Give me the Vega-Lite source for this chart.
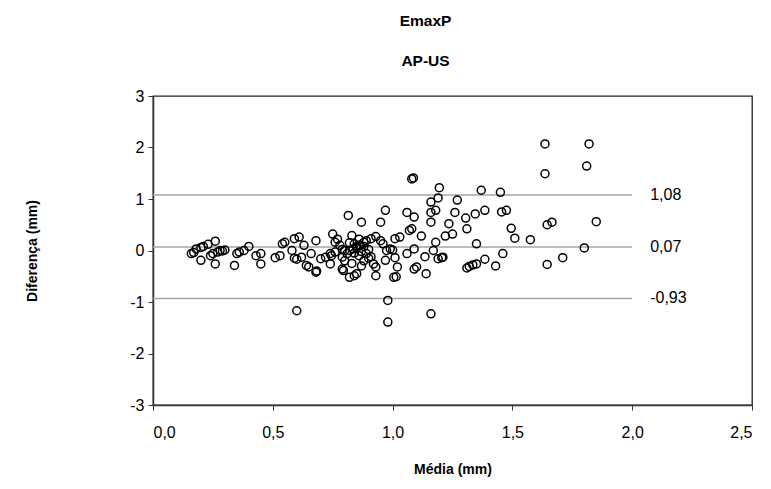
{
  "$schema": "https://vega.github.io/schema/vega-lite/v6.json",
  "width": 599,
  "height": 309,
  "autosize": {"type": "none"},
  "padding": {"left": 153, "top": 96, "right": 19, "bottom": 84},
  "background": "white",
  "config": {
    "font": "Liberation Sans",
    "view": {"stroke": "#222", "strokeWidth": 1.3},
    "axis": {"grid": false, "domainColor": "#333", "domainWidth": 1.5, "tickColor": "#333", "tickSize": 5, "labelFont": "Liberation Sans", "labelFontSize": 16, "labelColor": "#000", "titleFont": "Liberation Sans", "titleFontSize": 14, "titleFontWeight": "bold", "titleColor": "#000"}
  },
  "title": {"text": "EmaxP", "subtitle": "AP-US", "fontSize": 15.5, "fontWeight": "bold", "subtitleFontSize": 15.5, "subtitleFontWeight": "bold", "subtitleColor": "#000", "color": "#000", "subtitlePadding": 24, "offset": 19, "dx": -27, "anchor": "middle", "font": "Liberation Sans", "subtitleFont": "Liberation Sans"},
  "datasets": {
    "pts": [
      {"m":0.16,"d":-0.06},{"m":0.17,"d":-0.04},{"m":0.18,"d":0.03},{"m":0.20,"d":0.06},{"m":0.20,"d":-0.19},{"m":0.21,"d":0.08},{"m":0.23,"d":0.12},{"m":0.24,"d":-0.10},{"m":0.25,"d":-0.06},{"m":0.26,"d":0.18},{"m":0.26,"d":-0.26},{"m":0.27,"d":-0.03},{"m":0.28,"d":0.0},{"m":0.29,"d":-0.01},{"m":0.30,"d":0.01},
      {"m":0.34,"d":-0.29},{"m":0.35,"d":-0.06},{"m":0.36,"d":-0.03},{"m":0.38,"d":0.0},{"m":0.40,"d":0.08},{"m":0.43,"d":-0.10},{"m":0.45,"d":-0.06},{"m":0.45,"d":-0.26},{"m":0.51,"d":-0.14},{"m":0.53,"d":-0.10},{"m":0.54,"d":0.13},{"m":0.55,"d":0.16},
      {"m":0.58,"d":0.0},{"m":0.59,"d":0.23},{"m":0.61,"d":0.26},{"m":0.59,"d":-0.15},{"m":0.60,"d":-0.17},{"m":0.60,"d":-1.17},{"m":0.62,"d":-0.13},{"m":0.63,"d":0.10},{"m":0.64,"d":-0.29},{"m":0.65,"d":-0.32},{"m":0.66,"d":-0.06},{"m":0.68,"d":-0.42},{"m":0.683,"d":-0.40},{"m":0.68,"d":0.19},{"m":0.70,"d":-0.16},{"m":0.72,"d":-0.13},
      {"m":0.74,"d":-0.26},{"m":0.745,"d":-0.10},{"m":0.75,"d":0.32},{"m":0.76,"d":0.16},{"m":0.77,"d":0.22},{"m":0.74,"d":-0.06},{"m":0.76,"d":-0.03},{"m":0.79,"d":0.02},{"m":0.80,"d":0.0},{"m":0.79,"d":-0.36},{"m":0.795,"d":-0.39},{"m":0.815,"d":0.68},{"m":0.82,"d":-0.52},{"m":0.84,"d":-0.49},{"m":0.85,"d":-0.45},{"m":0.83,"d":0.29},{"m":0.84,"d":0.13},{"m":0.84,"d":-0.05},{"m":0.85,"d":0.05},{"m":0.86,"d":-0.1},{"m":0.86,"d":0.1},{"m":0.87,"d":0.55},{"m":0.87,"d":-0.02},{"m":0.88,"d":0.08},{"m":0.88,"d":-0.2},{"m":0.89,"d":0.19},{"m":0.89,"d":-0.06},{"m":0.90,"d":0.02},{"m":0.91,"d":0.23},{"m":0.91,"d":-0.12},{"m":0.92,"d":-0.26},{"m":0.93,"d":0.27},{"m":0.93,"d":-0.49},{"m":0.93,"d":-0.32},
      {"m":0.79,"d":-0.13},{"m":0.81,"d":-0.06},{"m":0.82,"d":0.0},{"m":0.835,"d":0.03},{"m":0.85,"d":0.08},{"m":0.865,"d":0.10},{"m":0.88,"d":0.16},{"m":0.80,"d":-0.2},{"m":0.83,"d":-0.25},{"m":0.87,"d":-0.3},{"m":0.90,"d":-0.15},{"m":0.78,"d":0.1},{"m":0.82,"d":0.15},{"m":0.86,"d":0.22},
      {"m":0.95,"d":0.55},{"m":0.95,"d":0.19},{"m":0.96,"d":0.13},{"m":0.97,"d":0.78},{"m":0.97,"d":-0.19},{"m":0.975,"d":0.0},{"m":0.99,"d":0.03},{"m":0.98,"d":-0.97},{"m":0.98,"d":-1.39},{"m":1.00,"d":0.01},{"m":1.005,"d":-0.52},{"m":1.015,"d":-0.51},{"m":1.01,"d":-0.14},{"m":1.01,"d":0.23},{"m":1.03,"d":0.26},{"m":1.02,"d":-0.32},
      {"m":1.06,"d":0.74},{"m":1.09,"d":0.65},{"m":1.07,"d":0.39},{"m":1.08,"d":0.42},{"m":1.06,"d":-0.06},{"m":1.09,"d":0.03},{"m":1.09,"d":-0.36},{"m":1.10,"d":-0.32},{"m":1.08,"d":1.39},{"m":1.087,"d":1.41},{"m":1.12,"d":0.28},{"m":1.14,"d":-0.45},{"m":1.135,"d":-0.12},{"m":1.16,"d":-1.23},{"m":1.16,"d":0.55},{"m":1.16,"d":0.74},{"m":1.18,"d":0.78},{"m":1.16,"d":0.94},{"m":1.19,"d":1.02},{"m":1.195,"d":1.22},{"m":1.18,"d":0.16},{"m":1.17,"d":0.0},{"m":1.19,"d":-0.16},{"m":1.205,"d":-0.14},{"m":1.21,"d":-0.13},
      {"m":1.22,"d":0.28},{"m":1.235,"d":0.52},{"m":1.25,"d":0.32},{"m":1.26,"d":0.74},{"m":1.27,"d":0.98},{"m":1.305,"d":0.63},{"m":1.31,"d":0.42},{"m":1.31,"d":-0.34},{"m":1.32,"d":-0.31},{"m":1.335,"d":-0.28},{"m":1.35,"d":-0.26},{"m":1.345,"d":0.71},{"m":1.35,"d":0.13},{"m":1.37,"d":1.17},{"m":1.385,"d":0.78},{"m":1.385,"d":-0.17},{"m":1.43,"d":-0.30},{"m":1.45,"d":1.13},{"m":1.455,"d":0.75},{"m":1.475,"d":0.78},{"m":1.46,"d":-0.06},{"m":1.495,"d":0.43},{"m":1.51,"d":0.24},
      {"m":1.575,"d":0.21},{"m":1.636,"d":2.07},{"m":1.636,"d":1.49},{"m":1.645,"d":0.50},{"m":1.665,"d":0.55},{"m":1.645,"d":-0.27},{"m":1.71,"d":-0.14},{"m":1.80,"d":0.05},{"m":1.81,"d":1.64},{"m":1.82,"d":2.07},{"m":1.85,"d":0.56}
    ],
    "lines": [
      {"y":1.08,"x0":0,"x1":2,"label":"1,08"},
      {"y":0.07,"x0":0,"x1":2,"label":"0,07"},
      {"y":-0.93,"x0":0,"x1":2,"label":"-0,93"}
    ]
  },
  "layer": [
    {
      "data": {"name": "lines"},
      "mark": {"type": "rule", "color": "#a6a6a6", "strokeWidth": 1.5},
      "encoding": {
        "x": {"field": "x0", "type": "quantitative", "scale": {"domain": [0, 2.5], "nice": false, "zero": false}, "axis": {"values": [0,0.5,1,1.5,2,2.5], "labelExpr": "replace(format(datum.value, '.1f'), '.', ',')", "title": "Média (mm)", "labelPadding": 14, "titlePadding": 22}},
        "x2": {"field": "x1"},
        "y": {"field": "y", "type": "quantitative", "scale": {"domain": [-3, 3], "nice": false}, "axis": {"values": [-3,-2,-1,0,1,2,3], "labelExpr": "datum.value < 0 ? '-' + abs(datum.value) : '' + datum.value", "title": "Diferença (mm)", "labelPadding": 4, "titlePadding": 90}}
      }
    },
    {
      "data": {"name": "lines"},
      "mark": {"type": "text", "align": "left", "baseline": "middle", "fontSize": 16, "dx": 18, "color": "#000", "font": "Liberation Sans"},
      "encoding": {
        "x": {"field": "x1", "type": "quantitative"},
        "y": {"field": "y", "type": "quantitative"},
        "text": {"field": "label"}
      }
    },
    {
      "data": {"name": "pts"},
      "mark": {"type": "point", "shape": "circle", "filled": false, "stroke": "#000", "strokeWidth": 1.5, "size": 64, "opacity": 1},
      "encoding": {
        "x": {"field": "m", "type": "quantitative"},
        "y": {"field": "d", "type": "quantitative"}
      }
    }
  ]
}
